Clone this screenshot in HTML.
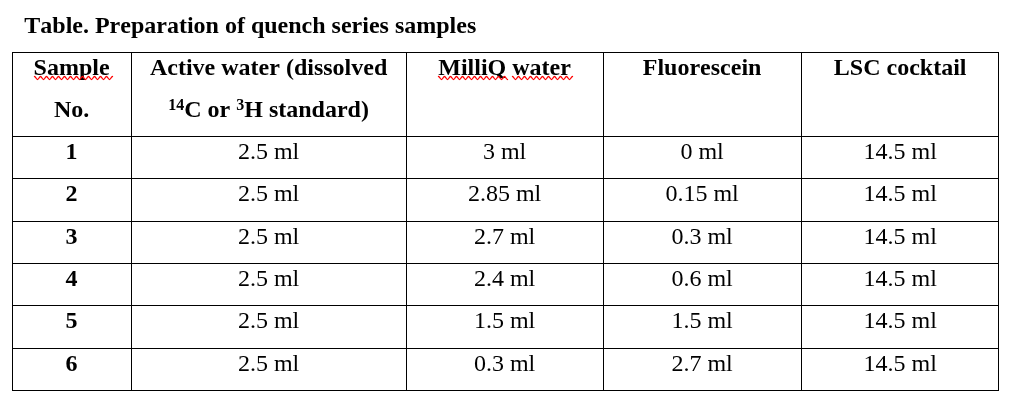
<!DOCTYPE html>
<html lang="en">
<head>
<meta charset="utf-8">
<title>Table. Preparation of quench series samples</title>
<style>
html,body{margin:0;padding:0;background:#fff;}
body{width:1009px;height:400px;position:relative;overflow:hidden;
 font-family:"Liberation Serif","Times New Roman",serif;font-size:24px;line-height:24px;color:#000;}
.ln{position:absolute;background:#000;}
.t{position:absolute;white-space:nowrap;text-align:center;height:24px;
 font-kerning:none;font-variant-ligatures:none;font-feature-settings:"kern" 0,"liga" 0;
 transform:translateX(-0.4px);}
.b{font-weight:bold;}
.c4{transform:translateX(0.2px);}
.sup{font-size:16px;position:relative;top:-7.3px;line-height:0;}
.sq{position:absolute;overflow:visible;}
#txt{position:absolute;left:0;top:0;width:1009px;height:400px;will-change:transform;}
</style>
</head>
<body>
<div class="ln" style="left:12px;top:52px;width:987px;height:1px;"></div>
<div class="ln" style="left:12px;top:136px;width:987px;height:1px;"></div>
<div class="ln" style="left:12px;top:178px;width:987px;height:1px;"></div>
<div class="ln" style="left:12px;top:221px;width:987px;height:1px;"></div>
<div class="ln" style="left:12px;top:263px;width:987px;height:1px;"></div>
<div class="ln" style="left:12px;top:305px;width:987px;height:1px;"></div>
<div class="ln" style="left:12px;top:348px;width:987px;height:1px;"></div>
<div class="ln" style="left:12px;top:390px;width:987px;height:1px;"></div>
<div class="ln" style="left:12px;top:52px;width:1px;height:339px;"></div>
<div class="ln" style="left:131px;top:52px;width:1px;height:339px;"></div>
<div class="ln" style="left:406px;top:52px;width:1px;height:339px;"></div>
<div class="ln" style="left:603px;top:52px;width:1px;height:339px;"></div>
<div class="ln" style="left:801px;top:52px;width:1px;height:339px;"></div>
<div class="ln" style="left:998px;top:52px;width:1px;height:339px;"></div>
<div id="txt">
<div class="t b" style="left:24.7px;top:13px;text-align:left;">Table. Preparation of quench series samples</div>
<div class="t b" style="left:13px;width:118px;top:55px;">Sample</div>
<div class="t b" style="left:13px;width:118px;top:97px;">No.</div>
<div class="t b" style="left:132px;width:274px;top:55px;">Active water (dissolved</div>
<div class="t b" style="left:132px;width:274px;top:97px;"><span class="sup">14</span>C or <span class="sup">3</span>H standard)</div>
<div class="t b" style="left:407px;width:196px;top:55px;">MilliQ water</div>
<div class="t b" style="left:604px;width:197px;top:55px;">Fluorescein</div>
<div class="t b c4" style="left:802px;width:196px;top:55px;">LSC cocktail</div>
<div class="t b" style="left:13px;width:118px;top:139px;">1</div>
<div class="t" style="left:132px;width:274px;top:139px;">2.5 ml</div>
<div class="t" style="left:407px;width:196px;top:139px;">3 ml</div>
<div class="t" style="left:604px;width:197px;top:139px;">0 ml</div>
<div class="t c4" style="left:802px;width:196px;top:139px;">14.5 ml</div>
<div class="t b" style="left:13px;width:118px;top:181px;">2</div>
<div class="t" style="left:132px;width:274px;top:181px;">2.5 ml</div>
<div class="t" style="left:407px;width:196px;top:181px;">2.85 ml</div>
<div class="t" style="left:604px;width:197px;top:181px;">0.15 ml</div>
<div class="t c4" style="left:802px;width:196px;top:181px;">14.5 ml</div>
<div class="t b" style="left:13px;width:118px;top:224px;">3</div>
<div class="t" style="left:132px;width:274px;top:224px;">2.5 ml</div>
<div class="t" style="left:407px;width:196px;top:224px;">2.7 ml</div>
<div class="t" style="left:604px;width:197px;top:224px;">0.3 ml</div>
<div class="t c4" style="left:802px;width:196px;top:224px;">14.5 ml</div>
<div class="t b" style="left:13px;width:118px;top:266px;">4</div>
<div class="t" style="left:132px;width:274px;top:266px;">2.5 ml</div>
<div class="t" style="left:407px;width:196px;top:266px;">2.4 ml</div>
<div class="t" style="left:604px;width:197px;top:266px;">0.6 ml</div>
<div class="t c4" style="left:802px;width:196px;top:266px;">14.5 ml</div>
<div class="t b" style="left:13px;width:118px;top:308px;">5</div>
<div class="t" style="left:132px;width:274px;top:308px;">2.5 ml</div>
<div class="t" style="left:407px;width:196px;top:308px;">1.5 ml</div>
<div class="t" style="left:604px;width:197px;top:308px;">1.5 ml</div>
<div class="t c4" style="left:802px;width:196px;top:308px;">14.5 ml</div>
<div class="t b" style="left:13px;width:118px;top:351px;">6</div>
<div class="t" style="left:132px;width:274px;top:351px;">2.5 ml</div>
<div class="t" style="left:407px;width:196px;top:351px;">0.3 ml</div>
<div class="t" style="left:604px;width:197px;top:351px;">2.7 ml</div>
<div class="t c4" style="left:802px;width:196px;top:351px;">14.5 ml</div>
</div>
<svg class="sq" style="left:0;top:0;" width="1009" height="400" viewBox="0 0 1009 400"><g fill="none" stroke="#ff0000" stroke-width="1.35" stroke-linejoin="round" stroke-linecap="round">
<path d="M34.5 76.5 C35.6 76.5 36.4 79.5 37.5 79.5 C38.6 79.5 39.4 76.5 40.5 76.5 C41.6 76.5 42.4 79.5 43.5 79.5 C44.6 79.5 45.4 76.5 46.5 76.5 C47.6 76.5 48.4 79.5 49.5 79.5 C50.6 79.5 51.4 76.5 52.5 76.5 C53.6 76.5 54.4 79.5 55.5 79.5 C56.6 79.5 57.4 76.5 58.5 76.5 C59.6 76.5 60.4 79.5 61.5 79.5 C62.6 79.5 63.4 76.5 64.5 76.5 C65.6 76.5 66.4 79.5 67.5 79.5 C68.6 79.5 69.4 76.5 70.5 76.5 C71.6 76.5 72.4 79.5 73.5 79.5 C74.6 79.5 75.4 76.5 76.5 76.5 C77.6 76.5 78.4 79.5 79.5 79.5 C80.6 79.5 81.4 76.5 82.5 76.5 C83.6 76.5 84.4 79.5 85.5 79.5 C86.6 79.5 87.4 76.5 88.5 76.5 C89.6 76.5 90.4 79.5 91.5 79.5 C92.6 79.5 93.4 76.5 94.5 76.5 C95.6 76.5 96.4 79.5 97.5 79.5 C98.6 79.5 99.4 76.5 100.5 76.5 C101.6 76.5 102.4 79.5 103.5 79.5 C104.6 79.5 105.4 76.5 106.5 76.5 C107.6 76.5 108.4 79.5 109.5 79.5 C110.6 79.5 111.4 76.5 112.5 76.5"/>
<path d="M438.5 76.5 C439.6 76.5 440.4 79.5 441.5 79.5 C442.6 79.5 443.4 76.5 444.5 76.5 C445.6 76.5 446.4 79.5 447.5 79.5 C448.6 79.5 449.4 76.5 450.5 76.5 C451.6 76.5 452.4 79.5 453.5 79.5 C454.6 79.5 455.4 76.5 456.5 76.5 C457.6 76.5 458.4 79.5 459.5 79.5 C460.6 79.5 461.4 76.5 462.5 76.5 C463.6 76.5 464.4 79.5 465.5 79.5 C466.6 79.5 467.4 76.5 468.5 76.5 C469.6 76.5 470.4 79.5 471.5 79.5 C472.6 79.5 473.4 76.5 474.5 76.5 C475.6 76.5 476.4 79.5 477.5 79.5 C478.6 79.5 479.4 76.5 480.5 76.5 C481.6 76.5 482.4 79.5 483.5 79.5 C484.6 79.5 485.4 76.5 486.5 76.5 C487.6 76.5 488.4 79.5 489.5 79.5 C490.6 79.5 491.4 76.5 492.5 76.5 C493.6 76.5 494.4 79.5 495.5 79.5 C496.6 79.5 497.4 76.5 498.5 76.5 C499.6 76.5 500.4 79.5 501.5 79.5 C502.6 79.5 503.4 76.5 504.5 76.5 C505.6 76.5 506.4 79.5 507.5 79.5"/>
<path d="M512.5 76.5 C513.6 76.5 514.4 79.5 515.5 79.5 C516.6 79.5 517.4 76.5 518.5 76.5 C519.6 76.5 520.4 79.5 521.5 79.5 C522.6 79.5 523.4 76.5 524.5 76.5 C525.6 76.5 526.4 79.5 527.5 79.5 C528.6 79.5 529.4 76.5 530.5 76.5 C531.6 76.5 532.4 79.5 533.5 79.5 C534.6 79.5 535.4 76.5 536.5 76.5 C537.6 76.5 538.4 79.5 539.5 79.5 C540.6 79.5 541.4 76.5 542.5 76.5 C543.6 76.5 544.4 79.5 545.5 79.5 C546.6 79.5 547.4 76.5 548.5 76.5 C549.6 76.5 550.4 79.5 551.5 79.5 C552.6 79.5 553.4 76.5 554.5 76.5 C555.6 76.5 556.4 79.5 557.5 79.5 C558.6 79.5 559.4 76.5 560.5 76.5 C561.6 76.5 562.4 79.5 563.5 79.5 C564.6 79.5 565.4 76.5 566.5 76.5 C567.6 76.5 568.4 79.5 569.5 79.5 C570.6 79.5 571.4 76.5 572.5 76.5"/>
</g></svg>
</body>
</html>
